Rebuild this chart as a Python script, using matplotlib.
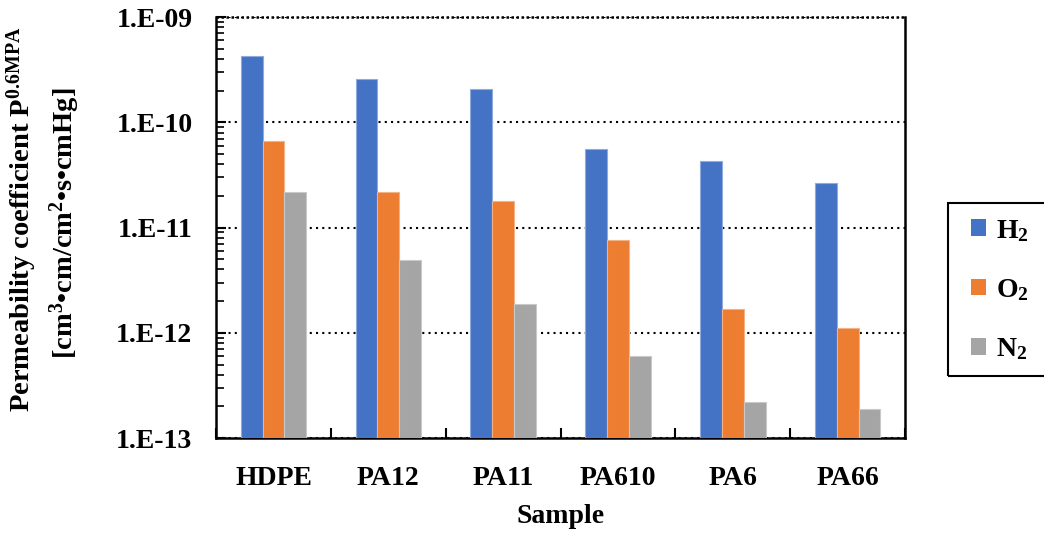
import matplotlib
matplotlib.use('Agg')
import matplotlib.pyplot as plt
from matplotlib.patches import Rectangle
from matplotlib.ticker import FixedLocator, LogLocator, FuncFormatter, NullFormatter
import numpy as np

plt.rcParams['font.family'] = ['Liberation Serif', 'DejaVu Serif']
plt.rcParams['font.weight'] = 'bold'
plt.rcParams['mathtext.fontset'] = 'custom'
plt.rcParams['mathtext.rm'] = 'Liberation Serif:bold'
plt.rcParams['mathtext.bf'] = 'Liberation Serif:bold'
plt.rcParams['mathtext.it'] = 'Liberation Serif:bold:italic'

# data
samples = ['HDPE', 'PA12', 'PA11', 'PA610', 'PA6', 'PA66']
h2 = [4.3e-10, 2.6e-10, 2.07e-10, 5.6e-11, 4.3e-11, 2.65e-11]
o2 = [6.6e-11, 2.2e-11, 1.78e-11, 7.6e-12, 1.7e-12, 1.12e-12]
n2 = [2.2e-11, 4.9e-12, 1.9e-12, 6.0e-13, 2.2e-13, 1.9e-13]
gases = ['H$_2$', 'O$_2$', 'N$_2$']
colors = ['#4472C4', '#ED7D31', '#A5A5A5']
edges = ['#8FAADC', '#F4B183', '#C9C9C9']

FS = 20
base = 1e-13

fig = plt.figure(figsize=(10.44, 5.33), dpi=100)
ax = fig.add_axes([0.207, 0.178, 0.660, 0.790])

x = np.arange(len(samples))
w = 0.19
for i, (vals, lab) in enumerate(zip([h2, o2, n2], gases)):
    heights = np.array(vals) - base
    ax.bar(x + (i - 1) * w, heights, w, bottom=base, color=colors[i],
           edgecolor=edges[i], linewidth=0.8, label=lab, zorder=3)

ax.set_yscale('log')
ax.set_ylim(1e-13, 1e-9)
ax.set_xlim(-0.5, len(samples) - 0.5)

# y ticks
ax.yaxis.set_major_locator(FixedLocator([1e-13, 1e-12, 1e-11, 1e-10, 1e-9]))
ax.yaxis.set_major_formatter(FuncFormatter(lambda v, p: '1.E-%02d' % int(round(-np.log10(v)))))
ax.yaxis.set_minor_locator(LogLocator(base=10, subs=np.arange(2, 10)))
ax.yaxis.set_minor_formatter(NullFormatter())
ax.tick_params(axis='y', which='major', direction='in', length=7, width=1.5,
               labelsize=FS, pad=17)
ax.tick_params(axis='y', which='minor', direction='in', length=6, width=1.2)
ax.grid(axis='y', which='major', color='black', linestyle=(0, (1, 2)), linewidth=1.5, zorder=1)

# x ticks: separators at boundaries, labels at centres
ax.set_xticks(np.arange(len(samples) + 1) - 0.5)
ax.set_xticklabels([])
ax.set_xticks(x, minor=True)
ax.set_xticklabels(samples, minor=True)
ax.tick_params(axis='x', which='major', direction='in', length=7, width=1.5)
ax.tick_params(axis='x', which='minor', length=0, labelsize=FS, pad=20)

for s in ['left', 'bottom', 'right']:
    ax.spines[s].set_linewidth(1.8)
ax.spines['top'].set_visible(False)
ax.axhline(1e-9, color='black', linestyle=(0, (1, 1)), linewidth=1.8, clip_on=False, zorder=4)

ax.set_xlabel('Sample', fontsize=FS, fontweight='bold')
ax.xaxis.set_label_coords(0.5, -0.185)
ax.xaxis.label.set_va('center')

fig.text(0.021, 0.589, 'Permeability coefficient P$^{\\mathrm{0.6MPA}}$', rotation=90,
         ha='center', va='center', fontsize=20.5)
fig.text(0.062, 0.582, '[cm$^{\\mathrm{3}}$•cm/cm$^{\\mathrm{2}}$•s•cmHg]', rotation=90,
         ha='center', va='center', fontsize=20.5)

# legend box runs off the right edge of the figure, as in the original
fig.patches.append(Rectangle((0.908, 1 - 376 / 533), 0.2, 173 / 533,
                             transform=fig.transFigure, fill=False,
                             edgecolor='black', linewidth=1.5))
leg = fig.legend(loc='center left', bbox_to_anchor=(0.9205, 0.456), fontsize=FS,
                 frameon=False, handlelength=0.55, handleheight=0.55,
                 handletextpad=0.35, labelspacing=1.2, borderpad=0.35,
                 borderaxespad=0)
for h in leg.legend_handles:
    h.set_edgecolor('none')

fig.savefig('out.png', dpi=100)
